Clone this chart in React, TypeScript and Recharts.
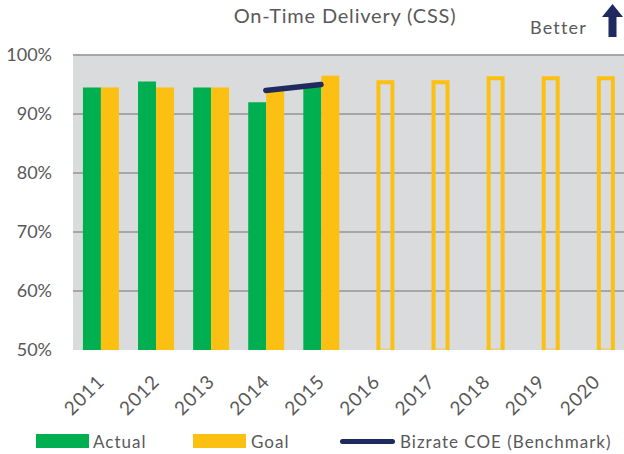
import { ComposedChart, Bar, Line, XAxis, YAxis, CartesianGrid } from 'recharts';

const years = ['2011', '2012', '2013', '2014', '2015', '2016', '2017', '2018', '2019', '2020'];
const actual = [94.5, 95.5, 94.5, 92, 95, null, null, null, null, null];
const goal = [94.5, 94.5, 94.5, 94, 96.5, 95.7, 95.7, 96.4, 96.4, 96.4];
const benchmark = [null, null, null, 94, 95, null, null, null, null, null];
const yTicks = [50, 60, 70, 80, 90, 100];

const GREEN = '#00b050';
const GOLD = '#fcc013';
const NAVY = '#1f2a5e';
const TEXT = '#595959';
const FONT = 'Lato, "Open Sans", sans-serif';

const data = years.map((year, i) => ({
  year,
  actual: actual[i],
  goal: goal[i],
  benchmark: benchmark[i],
}));

// filled goal bars for past years, outlined ones for future targets
function GoalShape(props: any) {
  const { x, y, width, height, index } = props;
  if (index < 5) {
    return <rect x={x} y={y} width={width} height={height} fill={GOLD} />;
  }
  const l = x + 2;
  const r = x + width - 2;
  const t = y + 2;
  const b = y + height;
  return (
    <g>
      <path d={`M${l},${b} L${l},${t} L${r},${t} L${r},${b}`} fill="none" stroke={GOLD} strokeWidth={4} />
      <line x1={x} x2={x + width} y1={b - 1} y2={b - 1} stroke={GOLD} strokeOpacity={0.35} strokeWidth={2} />
    </g>
  );
}

function YearTick(props: any) {
  const { x, y, payload } = props;
  return (
    <g transform={`translate(${x + 5},${y + 31})`}>
      <text textAnchor="end" transform="rotate(-45)" fill={TEXT} fontSize={19} letterSpacing={0.8} fontFamily={FONT}>
        {payload.value}
      </text>
    </g>
  );
}

export default function App() {
  return (
    <div style={{ position: 'absolute', left: 0, top: 0, width: 624, height: 454, background: '#fff', fontFamily: FONT }}>
      <div style={{ position: 'absolute', left: 0, width: 690, top: 3, textAlign: 'center', fontSize: 20, letterSpacing: 0.8, color: TEXT }}>
        On-Time Delivery (CSS)
      </div>
      <div style={{ position: 'absolute', left: 530, top: 16, fontSize: 18, color: TEXT, letterSpacing: 1.2 }}>Better</div>
      <svg style={{ position: 'absolute', left: 601, top: 4 }} width={24} height={34}>
        <polygon points="11.5,0 22,13 15.5,13 15.5,33 7.5,33 7.5,13 1,13" fill={NAVY} />
      </svg>

      <ComposedChart width={624} height={454} data={data} margin={{ top: 55, right: 0, left: 0, bottom: 0 }} barCategoryGap="18%" barGap={0}>
        <CartesianGrid vertical={false} horizontalValues={[60, 70, 80, 90, 100]} stroke="#a6a6a6" strokeWidth={2} fill="#dadbdd" fillOpacity={1} />
        <XAxis dataKey="year" height={104} tickLine={false} axisLine={false} tickSize={0} tick={<YearTick />} interval={0} />
        <YAxis
          width={73}
          domain={[50, 100]}
          ticks={yTicks}
          allowDataOverflow
          tickFormatter={(v) => `${v}%`}
          tickLine={false}
          axisLine={false}
          tickSize={0}
          tickMargin={21}
          tick={{ fill: TEXT, fontSize: 18, fontFamily: FONT }}
        />
        <Bar dataKey="actual" fill={GREEN} isAnimationActive={false} />
        <Bar dataKey="goal" fill={GOLD} shape={<GoalShape />} isAnimationActive={false} />
        <Line
          dataKey="benchmark"
          stroke={NAVY}
          strokeWidth={5.5}
          strokeLinecap="round"
          dot={false}
          activeDot={false}
          connectNulls={false}
          isAnimationActive={false}
        />
      </ComposedChart>

      <div style={{ position: 'absolute', top: 431, left: 0, width: 624, height: 20, fontSize: 17, color: TEXT, letterSpacing: 1 }}>
        <div style={{ position: 'absolute', left: 36, top: 3, width: 53, height: 14, background: GREEN }} />
        <div style={{ position: 'absolute', left: 93, top: 0 }}>Actual</div>
        <div style={{ position: 'absolute', left: 193, top: 3, width: 53, height: 14, background: GOLD }} />
        <div style={{ position: 'absolute', left: 251, top: 0 }}>Goal</div>
        <div style={{ position: 'absolute', left: 340, top: 8, width: 55, height: 5, borderRadius: 3, background: NAVY }} />
        <div style={{ position: 'absolute', left: 400, top: 0 }}>Bizrate COE (Benchmark)</div>
      </div>
    </div>
  );
}
